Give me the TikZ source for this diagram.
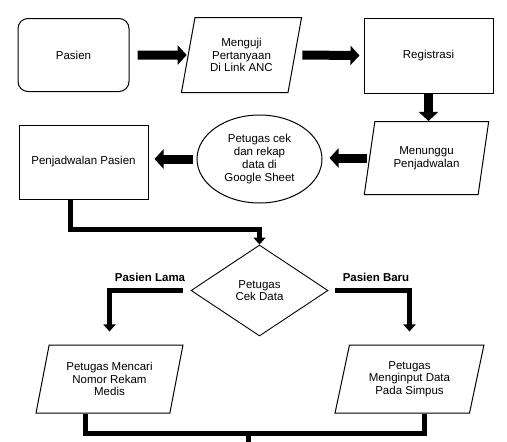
\documentclass[tikz,border=0pt]{standalone}
\usepackage{fontspec}
\setmainfont{Liberation Sans}
\usetikzlibrary{arrows.meta,shapes.geometric,positioning}
\tikzset{
    procbox/.style={rectangle, draw, line width=1pt, minimum width=129pt, minimum height=75pt, align=center},
    startbox/.style={procbox, rounded corners=10pt, minimum width=111pt, minimum height=73pt},
    databox/.style={trapezium, draw, line width=1pt, trapezium left angle=76, trapezium right angle=104,
      trapezium stretches=true, align=center},
    thinkbox/.style={ellipse, draw, line width=1pt, minimum width=125pt, minimum height=88pt, inner sep=0pt, align=center},
    decision/.style={diamond, draw, line width=0.9pt, minimum width=137pt, minimum height=91pt, inner sep=0pt, align=center},
    caselabel/.style={font=\fontsize{11.5}{12.7}\selectfont\bfseries},
    fatarrow/.style={line width=9pt, -{Triangle[length=9pt,width=19pt]}},
    elbow/.style={line width=5pt, -{Triangle[length=7pt,width=12pt]}},
    elbowline/.style={line width=5pt},
}
\begin{document}
\begin{tikzpicture}[x=1pt, y=-1pt, font=\fontsize{11.5}{12.7}\selectfont]
\useasboundingbox (0,0) rectangle (507,442);

\node[startbox] (pasien) at (73.5,55) {Pasien};
\node[databox, minimum width=121pt, minimum height=75pt] (uji) at (241.5,55) {Menguji\\Pertanyaan\\Di Link ANC};
\node[procbox] (reg) at (428.5,55.5) {Registrasi};
\node[databox, minimum width=125pt, minimum height=73pt] (tunggu) at (426.5,158) {Menunggu\\Penjadwalan};
\node[thinkbox] (rekap) at (259.5,159) {Petugas cek\\dan rekap\\data di\\Google Sheet};
\node[procbox, minimum height=74pt] (jadwal) at (83.5,162) {Penjadwalan Pasien};
\node[decision] (cek) at (259.5,290.5) {Petugas\\Cek Data};
\node[caselabel] (lama) at (150,277) {Pasien Lama};
\node[caselabel] (baru) at (376,277) {Pasien Baru};
\node[databox, minimum width=147pt, minimum height=68pt] (mencari) at (109.5,379) {Petugas Mencari\\Nomor Rekam\\Medis};
\node[databox, minimum width=149pt, minimum height=68pt] (input) at (409.5,379) {Petugas\\Menginput Data\\Pada Simpus};

% alur utama
\draw[fatarrow, shorten <=8pt, shorten >=1pt] (pasien.east) -- (uji.west);
\draw[fatarrow, shorten <=7pt, shorten >=4pt] (uji.east) -- (reg.west);
\draw[fatarrow] (reg.south) -- (reg.south |- tunggu.north);
\draw[fatarrow, shorten <=2pt, shorten >=7pt] (tunggu.west) -- (tunggu.west -| rekap.east);
\draw[fatarrow, shorten <=4pt, shorten >=6pt] (rekap.west) -- (rekap.west -| jadwal.east);
\draw[elbow] ([xshift=-13pt]jadwal.south) |- ([yshift=15pt]cek.north) -- (cek.north);

% cabang pasien lama / baru
\draw[elbow, shorten <=8pt, shorten >=13pt] (cek.west) -| (mencari.north);
\draw[elbow, shorten <=7pt, shorten >=13pt] (cek.east) -| (input.north);

\coordinate (join) at (248,433);
\coordinate (exit) at (248,442);
\draw[elbowline] ([xshift=-24pt]mencari.south) |- (join) -| ([xshift=14.5pt]input.south);
\draw[elbowline] (join) -- (exit);
\end{tikzpicture}
\end{document}
